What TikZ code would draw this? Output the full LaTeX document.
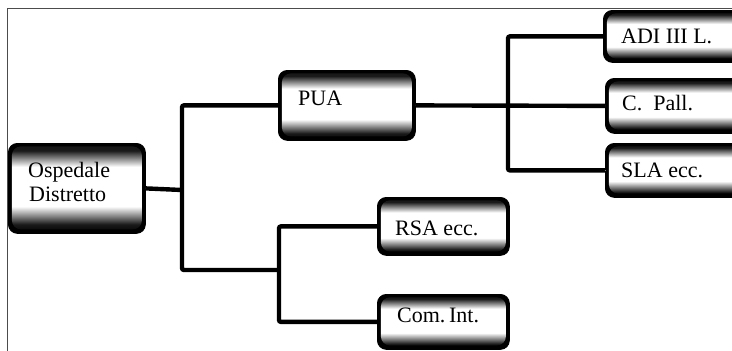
\documentclass[tikz,border=0pt]{standalone}
\usepackage{fontspec}
\setmainfont{Liberation Serif}
\pgfdeclareverticalshading{inshade}{100bp}{color(0bp)=(black); color(25bp)=(black); color(30bp)=(black!90); color(35bp)=(black!45); color(40bp)=(white); color(62bp)=(white); color(67bp)=(black!50); color(71bp)=(black!90); color(100bp)=(black)}
\tikzset{
  box/.style={draw=black, fill=black, line width=0.8pt, rounded corners=9pt, anchor=north west,
    inner sep=0pt, minimum width=#1,
    path picture={\shade[shading=inshade]
      ([shift={(3.5pt,-3pt)}]path picture bounding box.north west) rectangle
      ([shift={(-3.5pt,4pt)}]path picture bounding box.south east);}},
  lbl/.style={anchor=base west, inner sep=0pt, font=\fontsize{22}{25}\selectfont},
  conn/.style={draw=black, line width=4.4pt, rounded corners=2pt},
  shad/.style={draw=black!45, line width=1.6pt, dash pattern=on 1.2pt off 1pt, yshift=-3.6pt},
  frame/.style={draw=black!70, line width=0.9pt}
}
\begin{document}
\begin{tikzpicture}[x=1pt, y=-1pt]
\useasboundingbox (0,0) rectangle (732,351);
\clip (0,0) rectangle (732,351);
\fill[white] (0,0) rectangle (732,351);
\draw[frame] (7,360) -- (7,8) -- (740,8);
% boxes
\node[box=137pt, minimum height=90pt] (osp) at (8,143) {};
\node[box=137pt, minimum height=70pt] (pua) at (278,70) {};
\node[box=145pt, minimum height=52pt] (adi) at (603,10) {};
\node[box=145pt, minimum height=55pt] (cpall) at (605,78) {};
\node[box=145pt, minimum height=54pt] (sla) at (605,143) {};
\node[box=132pt, minimum height=58pt] (rsa) at (377,197) {};
\node[box=132pt, minimum height=55pt] (com) at (377,294) {};
% junctions
\coordinate (j1) at (182,190);
\coordinate (j2) at (279,270);
\coordinate (j3) at (508,105);
% connector shadows
\draw[shad] (osp.east) -- (j1);
\draw[shad] (pua.west) -| (j1) |- (j2);
\draw[shad] (rsa.west) -| (j2) |- (com.west);
\draw[shad] (pua.east) -- (cpall.west);
\draw[shad] (adi.west) -| (j3) |- (sla.west);
% connectors
\draw[conn] (osp.east) -- (j1);
\draw[conn] (pua.west) -| (j1) |- (j2);
\draw[conn] (rsa.west) -| (j2) |- (com.west);
\draw[conn] (pua.east) -- (cpall.west);
\draw[conn] (adi.west) -| (j3) |- (sla.west);
% labels
\node[lbl] (osp-a) at (28,177) {Ospedale};
\node[lbl] (osp-b) at (29,201) {Distretto};
\node[lbl] (pua-t) at (298,105) {PUA};
\node[lbl] (adi-t) at (621,43) {ADI III L.};
\node[lbl] (cpall-t) at (622,110) {C.\ \ Pall.};
\node[lbl] (sla-t) at (621,177) {SLA ecc.};
\node[lbl] (rsa-t) at (395,235) {RSA ecc.};
\node[lbl] (com-t) at (397,322) {Com.\,Int.};
\end{tikzpicture}
\end{document}
